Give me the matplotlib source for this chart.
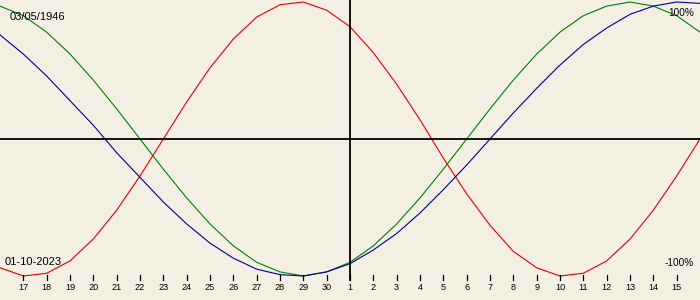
import matplotlib
matplotlib.use("Agg")
import matplotlib.pyplot as plt
from matplotlib import font_manager

# ---- data ----
day_labels = ["16", "17", "18", "19", "20", "21", "22", "23", "24", "25", "26", "27", "28", "29", "30",
              "1", "2", "3", "4", "5", "6", "7", "8", "9", "10", "11", "12", "13", "14", "15", "16"]
day_offsets = list(range(-15, 16))

physical = [-0.94, -1.00, -0.98, -0.89, -0.73, -0.52, -0.27, 0.00, 0.27, 0.52, 0.73, 0.89, 0.98, 1.00,
            0.94, 0.82, 0.63, 0.40, 0.14, -0.14, -0.40, -0.63, -0.82, -0.94, -1.00, -0.98, -0.89,
            -0.73, -0.52, -0.27, 0.00]
emotional = [0.97, 0.90, 0.78, 0.62, 0.43, 0.22, 0.00, -0.22, -0.43, -0.62, -0.78, -0.90, -0.97, -1.00,
             -0.97, -0.90, -0.78, -0.62, -0.43, -0.22, 0.00, 0.22, 0.43, 0.62, 0.78, 0.90, 0.97,
             1.00, 0.97, 0.90, 0.78]
intellectual = [0.76, 0.62, 0.46, 0.28, 0.10, -0.10, -0.28, -0.46, -0.62, -0.76, -0.87, -0.95, -0.99,
                -1.00, -0.97, -0.91, -0.81, -0.69, -0.54, -0.37, -0.19, 0.00, 0.19, 0.37, 0.54, 0.69,
                0.81, 0.91, 0.97, 1.00, 0.99]

birth_text = "03/05/1946"
date_text = "01-10-2023"
top_text = "100%"
bottom_text = "-100%"

# ---- style ----
BG = "#F3EFE3"
avail = {f.name for f in font_manager.fontManager.ttflist}
main_font = "Liberation Sans" if "Liberation Sans" in avail else "DejaVu Sans"
tick_font = "Liberation Sans Narrow" if "Liberation Sans Narrow" in avail else main_font

W, H = 700, 300
fig = plt.figure(figsize=(W / 100, H / 100), dpi=100, facecolor=BG)
ax = fig.add_axes([0, 0, 1, 1])
ax.set_facecolor(BG)
ax.axis("off")

# pixel mapping: value v -> y pixel 139 - 137 v
ax.set_xlim(-15, 15)
ax.set_ylim((139 - 300) / 137, 139 / 137)

def vy(py):
    return (139 - py) / 137

ax.plot(day_offsets, physical, color="#E00000", lw=0.8)
ax.plot(day_offsets, emotional, color="#008000", lw=0.8)
ax.plot(day_offsets, intellectual, color="#000090", lw=0.8)

# axes lines
ax.axhline(0, color="black", lw=1.3)
ax.plot([0, 0], [vy(0), vy(280)], color="black", lw=1.3)

# day ticks and labels
for k, lab in zip(day_offsets[1:-1], day_labels[1:-1]):
    ax.plot([k, k], [vy(275), vy(280)], color="black", lw=0.9)
    ax.text(k, vy(288), lab, ha="center", va="center", fontsize=6.6,
            family=tick_font, color="black")

fig.text(10 / W, 1 - 17 / H, birth_text, ha="left", va="center", fontsize=8, family=main_font)
fig.text(5 / W, 1 - 262 / H, date_text, ha="left", va="center", fontsize=8, family=main_font)
fig.text(694 / W, 1 - 12.5 / H, top_text, ha="right", va="center", fontsize=7.2, family=main_font)
fig.text(694 / W, 1 - 262.5 / H, bottom_text, ha="right", va="center", fontsize=7.2, family=main_font)

fig.savefig("out.png", dpi=100, facecolor=BG)
